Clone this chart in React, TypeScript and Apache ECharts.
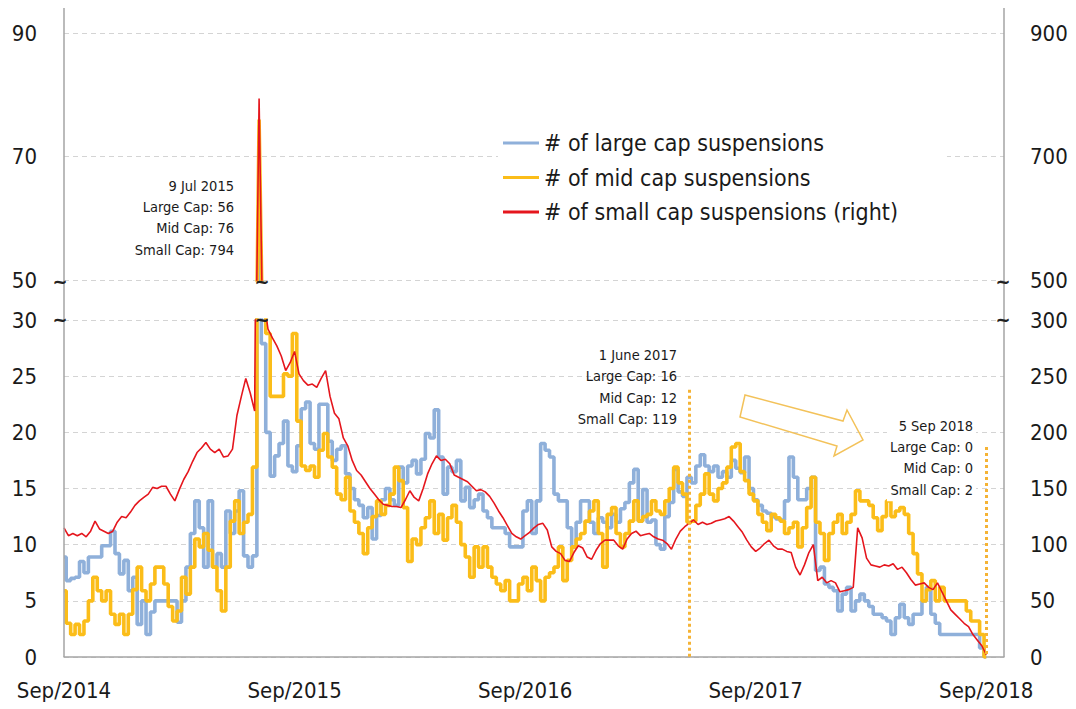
import React, { useEffect, useRef } from "react";
import * as echarts from "echarts";

const FONT = '"DejaVu Sans Condensed", "DejaVu Sans", sans-serif';

// weekly observation dates (plus a little empty room at the right end)
const categories: string[] = Array.from({ length: 213 }, (_, i) => {
  const d = new Date(Date.UTC(2014, 8, 4 + 7 * i));
  return d.toISOString().slice(0, 10);
});
categories[208] = "2018-09-05";

const xTickIndex = [0, 52, 104, 156, 208];
const xTickLabels = ["Sep/2014", "Sep/2015", "Sep/2016", "Sep/2017", "Sep/2018"];

const seriesNames = [
  "# of large cap suspensions",
  "# of mid cap suspensions",
  "# of small cap suspensions (right)",
];

const largeCap = [
  8.9, 6.8, 7, 7.1, 8.5, 7.5, 8.9, 8.9, 8.9, 9.9,
  9.9, 11.2, 9.2, 7.4, 8.6, 5.9, 7.1, 2.9, 5, 2,
  4, 5, 5, 5, 5, 5, 3.1, 5, 8, 11,
  13.9, 11.5, 8, 13.9, 8, 9.2, 8, 13, 11, 13,
  14.8, 9, 8, 9, 56, 27.9, 20, 16.1, 17.9, 19,
  21, 17, 16.5, 18.8, 22.1, 22.7, 19, 18.5, 22.5, 22.5,
  19.2, 17.5, 18.5, 18.8, 16.3, 15, 14, 13.5, 12.4, 13.3,
  10.5, 12.6, 14, 15, 14, 13.5, 16.9, 15.5, 17, 17.5,
  16.3, 17.6, 19.9, 19.5, 22, 17.8, 14.5, 16.9, 16.5, 17.5,
  13.9, 15.1, 13.3, 14, 14.5, 13, 12.4, 11.5, 11.5, 11.5,
  11, 9.8, 9.8, 9.8, 13, 13.9, 11, 13.9, 19, 18.4,
  17.8, 14.5, 13.9, 13.9, 11.5, 9.8, 12, 13.9, 13.9, 12,
  11, 12.4, 12, 11.5, 12.7, 12, 13.2, 13.75, 15.5, 16.7,
  12.1, 14.9, 12, 12.2, 10, 9.6, 12.5, 13.75, 16.7, 14.7,
  14.3, 16, 15.5, 17, 18, 17, 16.5, 17, 16, 16.5,
  16, 17.5, 16.8, 16.4, 17.8, 15, 14, 13.5, 13, 12.8,
  12.5, 12.3, 12.2, 13.9, 17.8, 16, 14, 14, 15, 16,
  7.7, 8, 6.5, 6.2, 5.9, 4.1, 5.6, 6.2, 4.1, 5,
  5.6, 5, 4.5, 3.8, 3.8, 3.5, 3.2, 2, 3.5, 4.7,
  3.5, 2.9, 3.8, 3.8, 5, 6.2, 3.8, 3, 2, 2,
  2, 2, 2, 2, 2, 2, 2, 0.8, 0,
];

const midCap = [
  5.9, 3, 2, 2.9, 2, 3.2, 5, 7.1, 5.9, 5,
  5.9, 3.8, 2.9, 3.8, 2, 3.8, 6, 8, 5.9, 5,
  6.5, 8, 8, 6.5, 4.5, 3.2, 4.1, 7.1, 5.6, 8,
  10.5, 9.8, 11, 9.5, 8, 5.9, 4.1, 8, 12.1, 13.9,
  11, 12, 12.7, 16.9, 76, 31, 28.8, 23.2, 23.2, 23.2,
  25.2, 25, 28.8, 21, 17, 16.6, 17, 16, 18.4, 19.9,
  17.8, 16.9, 14.5, 14, 16, 13, 12, 11, 9.2, 11.5,
  12.5, 13.9, 12.7, 13.5, 14.5, 16.9, 15.7, 13.3, 8.5, 10.5,
  10, 11.5, 12.4, 13.9, 11, 12.7, 10.4, 12.4, 13.5, 12,
  10, 8.9, 7.1, 9.8, 8, 9.8, 8, 7.1, 6.5, 5.9,
  6.8, 5, 5, 6.5, 7.1, 5.9, 8, 6.8, 5, 7.1,
  7.5, 8, 9.8, 6.8, 8.6, 9.8, 10.5, 11, 12.1, 13,
  13.9, 11, 8, 12.7, 13.3, 11, 9.8, 11, 12.1, 13.9,
  12.1, 12.5, 12.7, 13.9, 13, 12.7, 13.9, 15, 16.9, 15.5,
  14.5, 12, 12.1, 13.5, 14.5, 16.3, 14.5, 13.9, 15, 15.5,
  16.9, 18.7, 19, 16.5, 15.7, 14.5, 13.9, 12.7, 12, 11.25,
  12.7, 12.4, 12.1, 11, 11.5, 12, 9.8, 11.5, 13.3, 16,
  12, 11, 8.6, 11, 12, 12.7, 11, 12, 12.7, 14.8,
  13.9, 13.9, 13.5, 12.4, 11.25, 12.5, 13.9, 12.5, 13, 13.3,
  12.7, 11, 9.2, 7.4, 5, 6, 6.8, 5, 6.2, 5,
  5, 5, 5, 5, 4.1, 3.2, 3.2, 2, 0,
];

const smallCap = [
  115, 108, 110, 108, 110, 107, 112, 121, 114, 112,
  110, 112, 120, 125, 124, 129, 135, 139, 142, 145,
  151, 150, 152, 152, 145, 139, 149, 158, 165, 174,
  182, 186, 191, 185, 182, 185, 178, 179, 185, 215,
  232, 248, 235, 219, 794, 320, 292, 284, 277, 268,
  255, 262, 272, 252, 246, 242, 243, 240, 248, 255,
  232, 217, 212, 195, 188, 175, 166, 162, 156, 150,
  145, 140, 136, 135, 134, 134, 133, 140, 148, 142,
  139, 150, 163, 172, 179, 175, 176, 172, 162, 160,
  158, 156, 152, 148, 149, 147, 143, 137, 130, 124,
  117, 110, 107, 105, 108, 111, 115, 118, 119, 113,
  98, 94, 92, 86, 85, 93, 99, 97, 89, 87,
  95, 101, 104, 104, 104, 99, 96, 105, 110, 112,
  108, 109, 110, 107, 105, 104, 101, 96, 105, 112,
  116, 119, 122, 118, 120, 118, 119, 121, 122, 123,
  125, 121, 116, 111, 104, 98, 94, 97, 101, 104,
  99, 96, 96, 94, 93, 80, 73, 82, 93, 100,
  68, 71, 66, 68, 66, 58, 59, 60, 62, 115,
  106, 88, 82, 81, 80, 82, 81, 83, 78, 80,
  75, 69, 64, 65, 66, 62, 60, 66, 58, 50,
  42, 38, 34, 30, 27, 20, 15, 10, 2,
];

// annotated dates (category index) and dotted-line heights (left axis units)
const markIndex = [141, 208];
const markTop = [23.8, 18.7];
const annotations = [
  "9 Jul 2015\nLarge Cap: 56\nMid Cap: 76\nSmall Cap: 794",
  "1 June 2017\nLarge Cap: 16\nMid Cap: 12\nSmall Cap: 119",
  "5 Sep 2018\nLarge Cap: 0\nMid Cap: 0\nSmall Cap: 2",
];

const BLUE = "#8fb0da";
const YELLOW = "#fbbd19";
const RED = "#e5161d";
const DOT = "#f5b335";
const AXIS = "#a5a5a5";
const TEXT = "#1a1a1a";

export default function App() {
  const ref = useRef<HTMLDivElement>(null);

  useEffect(() => {
    if (!ref.current) return;
    const chart = echarts.init(ref.current, null, { renderer: "svg" });

    const labelMap: Record<string, string> = {};
    xTickIndex.forEach((idx, k) => (labelMap[categories[idx]] = xTickLabels[k]));

    const splitLine = { show: true, lineStyle: { color: "#d4d4d4", type: [5, 4] as any, width: 1 } };
    const yLabel = { fontSize: 22, color: TEXT, fontFamily: FONT };

    const tilde = (x: number, y: number) => ({
      type: "text",
      x,
      y,
      z: 50,
      style: { text: "~", font: `bold 20px ${FONT}`, fill: "#222", align: "center", verticalAlign: "middle" },
    });

    const annot = (text: string, x: number, y: number, bg: boolean) => ({
      type: "text",
      x,
      y,
      z: 60,
      style: {
        text,
        font: `14.5px ${FONT}`,
        fill: TEXT,
        align: "right",
        verticalAlign: "top",
        lineHeight: 21.3,
        backgroundColor: bg ? "#fff" : undefined,
        padding: bg ? [1, 3, 1, 3] : 0,
      },
    });

    const lineSeries = (name: string, data: number[], color: string, width: number, xi: number, yi: number, step: any, extra: any = {}) => ({
      name,
      type: "line",
      data,
      xAxisIndex: xi,
      yAxisIndex: yi,
      step,
      symbol: "none",
      showSymbol: false,
      lineStyle: { color, width },
      itemStyle: { color },
      clip: true,
      silent: true,
      ...extra,
    });

    chart.setOption({
      animation: false,
      backgroundColor: "#fff",
      textStyle: { fontFamily: FONT },
      grid: [
        { left: 64, right: 72, top: 33, height: 247 },
        { left: 64, right: 72, top: 320, height: 337 },
      ],
      legend: {
        orient: "vertical",
        left: 498,
        top: 120,
        padding: [8, 49, 8, 5],
        backgroundColor: "#fff",
        icon: "rect",
        itemWidth: 36,
        itemHeight: 3,
        itemGap: 4.5,
        selectedMode: false,
        textStyle: { fontSize: 23, color: TEXT, fontFamily: FONT, lineHeight: 30 },
        data: seriesNames,
        z: 20,
      },
      xAxis: [
        {
          gridIndex: 0,
          type: "category",
          data: categories,
          boundaryGap: false,
          show: false,
        },
        {
          gridIndex: 1,
          type: "category",
          data: categories,
          boundaryGap: false,
          axisLine: { show: true, lineStyle: { color: AXIS, width: 1.5 } },
          axisTick: { show: false },
          splitLine: { show: false },
          axisLabel: {
            interval: (index: number) => xTickIndex.includes(index),
            formatter: (value: string) => labelMap[value] ?? "",
            fontSize: 22,
            color: TEXT,
            fontFamily: FONT,
            margin: 22,
          },
        },
      ],
      yAxis: [
        {
          gridIndex: 0, type: "value", min: 50, max: 90, interval: 20, position: "left",
          axisLine: { show: false }, axisTick: { show: false },
          axisLabel: { ...yLabel, margin: 27 }, splitLine,
        },
        {
          gridIndex: 0, type: "value", min: 500, max: 900, interval: 200, position: "right",
          axisLine: { show: false }, axisTick: { show: false },
          axisLabel: { ...yLabel, margin: 26 }, splitLine: { show: false },
        },
        {
          gridIndex: 1, type: "value", min: 0, max: 30, interval: 5, position: "left",
          axisLine: { show: false }, axisTick: { show: false },
          axisLabel: { ...yLabel, margin: 27 }, splitLine,
        },
        {
          gridIndex: 1, type: "value", min: 0, max: 300, interval: 50, position: "right",
          axisLine: { show: false }, axisTick: { show: false },
          axisLabel: { ...yLabel, margin: 26 }, splitLine: { show: false },
        },
      ],
      series: [
        lineSeries(seriesNames[0], largeCap, BLUE, 3.6, 1, 2, "middle"),
        lineSeries(seriesNames[0], largeCap, BLUE, 3.6, 0, 0, false),
        lineSeries(seriesNames[1], midCap, YELLOW, 3.6, 1, 2, "middle", {
          markLine: {
            silent: true,
            symbol: ["none", "none"],
            label: { show: false },
            lineStyle: { type: [3, 3], width: 3, color: DOT },
            data: markIndex.map((idx, k) => [
              { coord: [categories[idx], markTop[k]] },
              { coord: [categories[idx], 0] },
            ]),
          },
        }),
        lineSeries(seriesNames[1], midCap, YELLOW, 3.6, 0, 0, false),
        lineSeries(seriesNames[2], smallCap, RED, 1.6, 1, 3, false),
        lineSeries(seriesNames[2], smallCap, RED, 1.6, 0, 1, false),
      ],
      graphic: [
        { type: "line", z: 40, shape: { x1: 64, y1: 8, x2: 64, y2: 657 }, style: { stroke: AXIS, lineWidth: 1.5 } },
        { type: "line", z: 40, shape: { x1: 1004, y1: 8, x2: 1004, y2: 657 }, style: { stroke: AXIS, lineWidth: 1.5 } },
        tilde(60, 281),
        tilde(60, 319),
        tilde(1003, 281),
        tilde(1003, 319),
        tilde(262, 281),
        tilde(262, 319),
        {
          type: "polygon",
          z: 30,
          shape: {
            points: [
              [745, 395], [843, 421], [847, 410], [863, 440], [834, 456], [837, 446], [740, 417],
            ],
          },
          style: { fill: "rgba(255,255,255,0)", stroke: "#f3c25a", lineWidth: 1.5 },
        },
        annot(annotations[0], 234, 175, false),
        annot(annotations[1], 677, 344.5, false),
        annot(annotations[2], 976, 414, true),
      ],
    });

    return () => chart.dispose();
  }, []);

  return (
    <div
      ref={ref}
      style={{ position: "fixed", left: 0, top: 0, width: 1076, height: 709, background: "#fff" }}
    />
  );
}
